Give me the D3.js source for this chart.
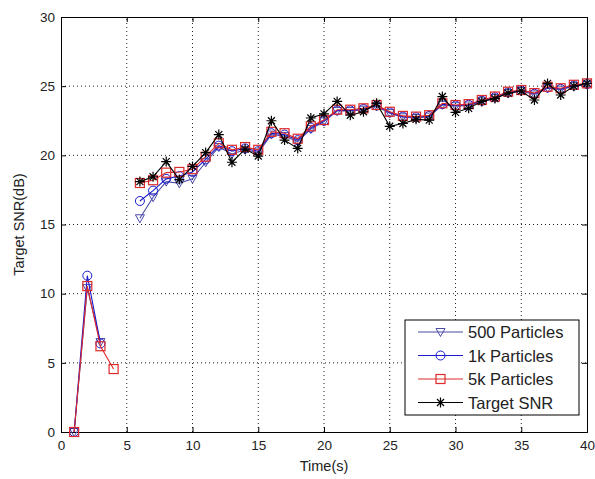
<!DOCTYPE html>
<html><head><meta charset="utf-8">
<script src="https://cdn.jsdelivr.net/npm/d3@7"></script>
<style>body{margin:0;background:#fff}svg{display:block}</style>
</head><body>
<script>
const times = d3.range(1, 41);
const xTicks = [0,5,10,15,20,25,30,35,40];
const yTicks = [0,5,10,15,20,25,30];
const seriesNames = ["500 Particles","1k Particles","5k Particles","Target SNR"];
const early500 = [0,10.4,6.5,null,null];
const early1k  = [0,11.3,6.4,null,null];
const early5k  = [0,10.55,6.2,4.55,null];
const earlyTarget = [null,null,null,null,null];
const late500 = [15.45,16.97,18.1,17.98,18.3,19.5,20.6,20.1,20.4,20.2,21.5,21.4,21.0,21.9,22.45,23.2,23.2,23.3,23.55,23.05,22.75,22.7,22.8,23.65,23.55,23.6,23.9,24.15,24.5,24.65,24.4,24.85,24.75,25.0,25.1];
const late1k = [16.7,17.45,18.3,18.5,18.8,19.7,20.7,20.3,20.5,20.3,21.6,21.5,21.1,22.0,22.5,23.25,23.25,23.35,23.6,23.1,22.8,22.75,22.85,23.7,23.6,23.65,23.95,24.2,24.55,24.7,24.45,24.9,24.8,25.05,25.15];
const late5k = [18.0,18.2,18.75,18.8,19.0,19.9,20.87,20.4,20.6,20.4,21.7,21.6,21.2,22.1,22.55,23.3,23.3,23.4,23.64,23.15,22.85,22.8,22.9,23.76,23.64,23.7,24.0,24.25,24.6,24.72,24.5,24.96,24.85,25.1,25.2];
const lateTarget = [18.1,18.45,19.55,18.25,19.2,20.2,21.5,19.5,20.45,19.95,22.5,21.1,20.5,22.7,23.0,23.9,22.9,23.15,23.76,22.1,22.3,22.6,22.55,24.25,23.1,23.4,23.9,24.1,24.5,24.65,24.0,25.2,24.36,25.0,25.2];
const values500 = early500.concat(late500);
const values1k = early1k.concat(late1k);
const values5k = early5k.concat(late5k);
const valuesTarget = earlyTarget.concat(lateTarget);

const W = 595, H = 479;
const m = {left: 61, right: 8, top: 17, bottom: 47};
const svg = d3.select("body").append("svg").attr("width", W).attr("height", H);
const x = d3.scaleLinear().domain([0,40]).range([m.left, W - m.right]);
const y = d3.scaleLinear().domain([0,30]).range([H - m.bottom, m.top]);
const font = "'Liberation Sans', Arial, sans-serif";

// grid
const g = svg.append("g");
g.selectAll(".gx").data(xTicks.slice(1,-1)).join("line")
  .attr("x1", d=>x(d)).attr("x2", d=>x(d)).attr("y1", y(0)).attr("y2", y(30))
  .attr("stroke","#222").attr("stroke-width",1).attr("stroke-dasharray","1,3");
g.selectAll(".gy").data(yTicks.slice(1,-1)).join("line")
  .attr("y1", d=>y(d)).attr("y2", d=>y(d)).attr("x1", x(0)).attr("x2", x(40))
  .attr("stroke","#222").attr("stroke-width",1).attr("stroke-dasharray","1,3");

// axes with inward ticks
const axB = d3.axisBottom(x).tickValues(xTicks).tickSize(-5).tickPadding(8);
const axL = d3.axisLeft(y).tickValues(yTicks).tickSize(-5).tickPadding(6);
const axT = d3.axisTop(x).tickValues(xTicks).tickSize(-5).tickFormat("");
const axR = d3.axisRight(y).tickValues(yTicks).tickSize(-5).tickFormat("");
function styleAx(sel){
  sel.selectAll("path").attr("stroke","#000");
  sel.selectAll("line").attr("stroke","#000");
  sel.selectAll("text").attr("fill","#222").style("font-family",font).style("font-size","13.5px");
}
svg.append("g").attr("transform",`translate(0,${y(0)})`).call(axB).call(styleAx);
svg.append("g").attr("transform",`translate(${x(0)},0)`).call(axL).call(styleAx);
svg.append("g").attr("transform",`translate(0,${y(30)})`).call(axT).call(styleAx);
svg.append("g").attr("transform",`translate(${x(40)},0)`).call(axR).call(styleAx);

svg.append("text").attr("x", x(20)).attr("y", 471).attr("text-anchor","middle")
  .style("font-family",font).style("font-size","14.5px").attr("fill","#222").text("Time(s)");
svg.append("text").attr("transform",`translate(24,${(y(0)+y(30))/2}) rotate(-90)`)
  .attr("text-anchor","middle").style("font-family",font).style("font-size","14.5px").attr("fill","#222").text("Target SNR(dB)");

const colors = ["#4a4aa8","#1a1acc","#dd2a2a","#000000"];
const allValues = [values500, values1k, values5k, valuesTarget];
const shapes = ["tri","circle","square","star"];

function marker(sel, shape, color){
  if(shape==="tri"){
    sel.append("path").attr("d","M-4.5,-3.5L4.5,-3.5L0,4.5Z").attr("fill","none").attr("stroke",color).attr("stroke-width",1);
  } else if(shape==="circle"){
    sel.append("circle").attr("r",4.5).attr("fill","none").attr("stroke",color).attr("stroke-width",1);
  } else if(shape==="square"){
    sel.append("rect").attr("x",-4.5).attr("y",-4.5).attr("width",9).attr("height",9).attr("fill","none").attr("stroke",color).attr("stroke-width",1.2);
  } else {
    sel.append("path").attr("d","M-5,0L5,0M0,-5L0,5M-3.5,-3.5L3.5,3.5M-3.5,3.5L3.5,-3.5").attr("fill","none").attr("stroke",color).attr("stroke-width",1.2);
  }
}

const line = d3.line().defined(d=>d[1]!=null).x(d=>x(d[0])).y(d=>y(d[1]));
allValues.forEach((vals,i)=>{
  const pts = times.map((t,j)=>[t, vals[j]]);
  svg.append("path").datum(pts).attr("d", line).attr("fill","none").attr("stroke",colors[i]).attr("stroke-width",1.1);
  const mk = svg.append("g").selectAll("g").data(pts.filter(d=>d[1]!=null)).join("g")
    .attr("transform", d=>`translate(${x(d[0])},${y(d[1])})`);
  marker(mk, shapes[i], colors[i]);
});

// legend
const lg = svg.append("g");
const lx = 405, ly = 320, lw = 174, lh = 95;
lg.append("rect").attr("x",lx).attr("y",ly).attr("width",lw).attr("height",lh).attr("fill","#fff").attr("stroke","#000").attr("stroke-width",1);
seriesNames.forEach((name,i)=>{
  const yy = ly + 12 + i*23.5;
  lg.append("line").attr("x1",lx+13).attr("x2",lx+58).attr("y1",yy).attr("y2",yy).attr("stroke",colors[i]).attr("stroke-width",1);
  const mg = lg.append("g").attr("transform",`translate(${lx+35.5},${yy})`);
  marker(mg, shapes[i], colors[i]);
  lg.append("text").attr("x",lx+63).attr("y",yy+6).style("font-family",font).style("font-size","16.5px").attr("fill","#222").text(name);
});
</script>
</body></html>
